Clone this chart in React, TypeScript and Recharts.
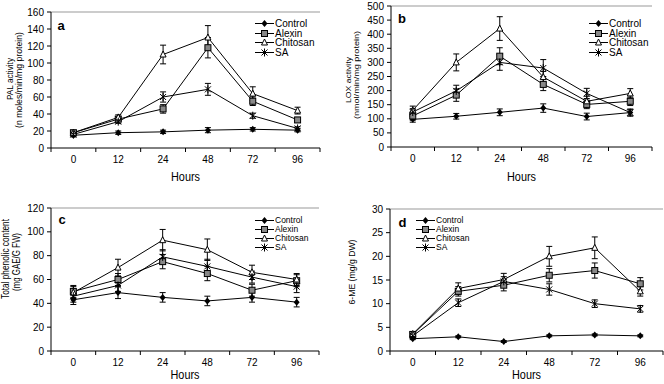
import { LineChart, Line, XAxis, YAxis, ErrorBar, Legend, ReferenceLine } from "recharts"

const hours = ["0", "12", "24", "48", "72", "96"]
const seriesKeys = ["control", "alexin", "chitosan", "sa"]
const seriesNames = ["Control", "Alexin", "Chitosan", "SA"]

// a - PAL activity
const palControl = [15, 18, 19, 21, 22, 21]
const palAlexin = [18, 34, 46, 118, 55, 33]
const palChitosan = [18, 36, 110, 130, 64, 44]
const palSA = [16, 31, 60, 69, 38, 23]
const palControlErr = [2, 2, 2, 3, 2, 2]
const palAlexinErr = [2, 3, 5, 12, 5, 3]
const palChitosanErr = [2, 3, 11, 14, 8, 4]
const palSAErr = [2, 2, 6, 7, 3, 2]
const palTicks = [0, 20, 40, 60, 80, 100, 120, 140, 160]

// b - LOX activity
const loxControl = [98, 109, 123, 138, 108, 122]
const loxAlexin = [110, 184, 322, 222, 151, 162]
const loxChitosan = [130, 300, 420, 248, 162, 190]
const loxSA = [124, 199, 300, 280, 190, 122]
const loxControlErr = [10, 10, 12, 15, 12, 12]
const loxAlexinErr = [15, 22, 30, 22, 15, 15]
const loxChitosanErr = [15, 30, 42, 20, 18, 17]
const loxSAErr = [12, 20, 28, 30, 18, 12]
const loxTicks = [0, 50, 100, 150, 200, 250, 300, 350, 400, 450, 500]

// c - total phenolic content
const phenControl = [43, 49, 45, 42, 45, 41]
const phenAlexin = [50, 60, 75, 65, 51, 59]
const phenChitosan = [49, 70, 93, 85, 66, 60]
const phenSA = [46, 55, 79, 71, 62, 54]
const phenControlErr = [4, 5, 4, 4, 4, 4]
const phenAlexinErr = [5, 5, 6, 6, 5, 5]
const phenChitosanErr = [5, 7, 9, 9, 6, 5]
const phenSAErr = [5, 5, 6, 6, 5, 5]
const phenTicks = [0, 20, 40, 60, 80, 100, 120]

// d - 6-ME
const meControl = [2.6, 3.0, 2.0, 3.2, 3.4, 3.2]
const meAlexin = [3.5, 12.6, 13.9, 16.0, 17.0, 14.2]
const meChitosan = [3.6, 13.2, 15.1, 20.0, 21.8, 12.6]
const meSA = [3.2, 10.2, 14.7, 13.0, 10.0, 8.9]
const meControlErr = [0.2, 0.2, 0.2, 0.2, 0.2, 0.2]
const meAlexinErr = [0.5, 1.0, 1.2, 1.4, 1.6, 1.3]
const meChitosanErr = [0.5, 1.2, 1.3, 2.1, 2.3, 1.0]
const meSAErr = [0.4, 0.8, 1.0, 1.2, 0.8, 0.7]
const meTicks = [0, 5, 10, 15, 20, 25, 30]

function buildRows(vals: number[][], errs: number[][]) {
  return hours.map((hour, i) => {
    const row: Record<string, string | number> = { hour }
    seriesKeys.forEach((k, s) => {
      row[k] = vals[s][i]
      row[k + "Err"] = errs[s][i]
    })
    return row
  })
}

const palRows = buildRows([palControl, palAlexin, palChitosan, palSA], [palControlErr, palAlexinErr, palChitosanErr, palSAErr])
const loxRows = buildRows([loxControl, loxAlexin, loxChitosan, loxSA], [loxControlErr, loxAlexinErr, loxChitosanErr, loxSAErr])
const phenRows = buildRows([phenControl, phenAlexin, phenChitosan, phenSA], [phenControlErr, phenAlexinErr, phenChitosanErr, phenSAErr])
const meRows = buildRows([meControl, meAlexin, meChitosan, meSA], [meControlErr, meAlexinErr, meChitosanErr, meSAErr])

function Marker({ kind, cx, cy }: { kind: string; cx: number; cy: number }) {
  if (kind === "control")
    return <polygon points={`${cx},${cy - 3.5} ${cx + 3},${cy} ${cx},${cy + 3.5} ${cx - 3},${cy}`} fill="#000" />
  if (kind === "alexin")
    return <rect x={cx - 3} y={cy - 3} width={6} height={6} fill="#888" stroke="#000" strokeWidth={1} />
  if (kind === "chitosan")
    return <polygon points={`${cx},${cy - 3.5} ${cx + 3},${cy + 2.5} ${cx - 3},${cy + 2.5}`} fill="#fff" stroke="#000" strokeWidth={1} />
  return (
    <g stroke="#000" strokeWidth={1}>
      <line x1={cx - 3} y1={cy - 3} x2={cx + 3} y2={cy + 3} />
      <line x1={cx - 3} y1={cy + 3} x2={cx + 3} y2={cy - 3} />
      <line x1={cx} y1={cy - 4} x2={cx} y2={cy + 4} />
    </g>
  )
}

type YLabel = { text: string; x: number; y: number; len: number; size: number }

type PanelProps = {
  rows: Record<string, string | number>[]
  box: number[]
  plot: number[]
  yMax: number
  yTicks: number[]
  yLabels: YLabel[]
  letter: string
  letterPos: number[]
  legendPos: number[]
  rowGap: number
  legendFont: number
  hoursY: number
}

function Panel({ rows, box, plot, yMax, yTicks, yLabels, letter, letterPos, legendPos, rowGap, legendFont, hoursY }: PanelProps) {
  const [left, top, w, h] = box
  const [x0, y0, x1, y1] = plot
  const half = (x1 - x0) / 12

  const xTick = (p: any) => (
    <g>
      {p.index === 0 && <line x1={p.x - half} x2={p.x - half} y1={p.y} y2={p.y + 4} stroke="#000" />}
      <line x1={p.x + half} x2={p.x + half} y1={p.y} y2={p.y + 4} stroke="#000" />
      <text x={p.x} y={p.y + 15} textAnchor="middle" fontSize={10} fill="#000">
        {p.payload.value}
      </text>
    </g>
  )

  const sideLabel = () => (
    <g>
      {yLabels.map((l) => (
        <text
          key={l.text}
          transform={`translate(${l.x},${l.y}) rotate(-90)`}
          textAnchor="middle"
          dominantBaseline="central"
          fontSize={l.size}
          textLength={l.len}
          lengthAdjust="spacingAndGlyphs"
          fill="#000"
        >
          {l.text}
        </text>
      ))}
      <text x={letterPos[0]} y={letterPos[1]} textAnchor="middle" dominantBaseline="central" fontSize={13} fontWeight="bold" fill="#000">
        {letter}
      </text>
    </g>
  )

  const hoursLabel = () => (
    <text x={(x0 + x1) / 2} y={hoursY} textAnchor="middle" fontSize={12} textLength={29} lengthAdjust="spacingAndGlyphs" fill="#000">
      Hours
    </text>
  )

  const legendContent = () => (
    <div style={{ fontSize: legendFont, lineHeight: `${rowGap}px`, color: "#000" }}>
      {seriesKeys.map((k, i) => (
        <div key={k} style={{ display: "flex", alignItems: "center", height: rowGap, whiteSpace: "nowrap" }}>
          <svg width={19} height={9} style={{ overflow: "visible" }}>
            <line x1={0} x2={19} y1={4.5} y2={4.5} stroke="#000" />
            <Marker kind={k} cx={9.5} cy={4.5} />
          </svg>
          <span style={{ marginLeft: 1 }}>{seriesNames[i]}</span>
        </div>
      ))}
    </div>
  )

  return (
    <div style={{ position: "absolute", left, top, width: w, height: h }}>
      <LineChart width={w} height={h} data={rows} margin={{ top: y0, right: w - x1, bottom: 0, left: 0 }}>
        <XAxis
          dataKey="hour"
          height={h - y1}
          padding={{ left: half, right: half }}
          interval={0}
          tickSize={0}
          tickMargin={0}
          tickLine={false}
          axisLine={{ stroke: "#000" }}
          tick={xTick}
          label={hoursLabel}
        />
        <YAxis
          width={x0}
          type="number"
          domain={[0, yMax]}
          ticks={yTicks}
          interval={0}
          tickSize={4}
          tickMargin={3}
          tick={{ fontSize: 10, fill: "#000" }}
          axisLine={{ stroke: "#000" }}
          tickLine={{ stroke: "#000" }}
          label={sideLabel}
        />
        <YAxis
          yAxisId="frame"
          orientation="right"
          width={0}
          type="number"
          domain={[0, yMax]}
          tick={false}
          tickLine={false}
          axisLine={{ stroke: "#999" }}
        />
        <ReferenceLine y={yMax} stroke="#999" />
        {seriesKeys.map((k, i) => (
          <Line
            key={k}
            dataKey={k}
            name={seriesNames[i]}
            stroke="#000"
            strokeWidth={1}
            isAnimationActive={false}
            activeDot={false}
            dot={(p: any) => <Marker key={`${k}-${p.index}`} kind={k} cx={p.cx} cy={p.cy} />}
          >
            <ErrorBar dataKey={k + "Err"} direction="y" width={3} stroke="#000" strokeWidth={1} isAnimationActive={false} />
          </Line>
        ))}
        <Legend
          layout="vertical"
          align="center"
          verticalAlign="middle"
          content={legendContent}
          wrapperStyle={{ left: legendPos[0], top: legendPos[1], width: "auto", height: "auto" }}
        />
      </LineChart>
    </div>
  )
}

export default function App() {
  return (
    <div style={{ position: "absolute", left: 0, top: 0, width: 664, height: 384, background: "#fff", fontFamily: "Arial, 'Liberation Sans', sans-serif" }}>
      <Panel
        rows={palRows}
        box={[0, 0, 330, 190]}
        plot={[51, 12, 320, 148]}
        yMax={160}
        yTicks={palTicks}
        yLabels={[
          { text: "PAL activity", x: 10, y: 79, len: 42, size: 9 },
          { text: "(n moles/min/mg protein)", x: 19, y: 80, len: 96, size: 9 },
        ]}
        letter="a"
        letterPos={[61, 25]}
        legendPos={[255, 19]}
        rowGap={9.5}
        legendFont={10}
        hoursY={181}
      />
      <Panel
        rows={loxRows}
        box={[330, 0, 334, 190]}
        plot={[61, 6, 322, 147]}
        yMax={500}
        yTicks={loxTicks}
        yLabels={[
          { text: "LOX activity", x: 18, y: 80, len: 46, size: 8 },
          { text: "(nmol/min/mg protein)", x: 26, y: 75, len: 88, size: 8 },
        ]}
        letter="b"
        letterPos={[72, 18]}
        legendPos={[259, 19]}
        rowGap={9.5}
        legendFont={10}
        hoursY={181}
      />
      <Panel
        rows={phenRows}
        box={[0, 190, 330, 194]}
        plot={[51, 18, 319, 161]}
        yMax={120}
        yTicks={phenTicks}
        yLabels={[
          { text: "Total phenolic content", x: 5, y: 69, len: 80, size: 11 },
          { text: "(mg GAE/G FW)", x: 16, y: 72, len: 58, size: 11 },
        ]}
        letter="c"
        letterPos={[62, 29]}
        legendPos={[255, 26]}
        rowGap={9}
        legendFont={8.5}
        hoursY={189}
      />
      <Panel
        rows={meRows}
        box={[330, 190, 334, 194]}
        plot={[60, 19, 333, 161]}
        yMax={30}
        yTicks={meTicks}
        yLabels={[{ text: "6-ME (mg/g DW)", x: 22, y: 82, len: 65, size: 9 }]}
        letter="d"
        letterPos={[72.5, 32]}
        legendPos={[86, 26]}
        rowGap={9}
        legendFont={8.5}
        hoursY={189}
      />
    </div>
  )
}
